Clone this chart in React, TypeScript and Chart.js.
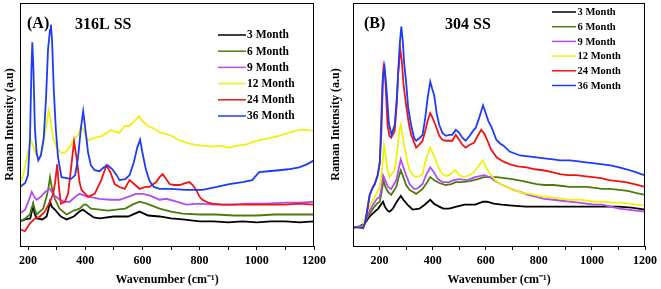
import React, { useEffect, useRef } from 'react';
import { Chart, registerables } from 'chart.js';

Chart.register(...registerables);

const FONT = "'Liberation Serif', 'Times New Roman', serif";

const SERIES_LABELS = ['3 Month', '6 Month', '9 Month', '12 Month', '24 Month', '36 Month'];
const SERIES_COLORS = ['#000000', '#4b7d0a', '#b34df2', '#eef20c', '#f01414', '#1f3cf5'];

const X_TICKS = [200, 300, 400, 500, 600, 700, 800, 900, 1000, 1100, 1200];
const X_TICK_LABELS = [200, 400, 600, 800, 1000, 1200];

const Y_TITLE = 'Raman Intensity (a.u)';
const X_TITLE = 'Wavenumber (cm\u207B\u00B9)';

// ---------- Panel A: 316L SS ----------
const A_3M = [[172,25],[190,27],[208,28],[214,36],[218,42],[223,33],[230,28],[250,27],[265,30],[272,38],[277,45],[283,40],[294,37],[315,30],[335,27],[360,30],[380,35],[392,37],[410,33],[430,29],[451,28],[500,30],[550,30],[590,35],[620,31],[660,30],[700,28],[741,27],[800,25],[850,25],[900,24],[950,25],[1000,24],[1050,25],[1100,25],[1150,24],[1200,25]];
const A_6M = [[172,25],[190,28],[207,32],[212,38],[218,43],[224,37],[230,32],[253,38],[265,50],[272,60],[277,70],[283,60],[294,48],[310,38],[335,32],[360,36],[381,38],[395,42],[404,42],[420,38],[451,37],[480,36],[509,37],[540,38],[565,42],[590,45],[615,43],[660,38],[700,35],[741,33],[800,32],[857,32],[920,31],[1000,31],[1060,32],[1130,32],[1200,32]];
const A_9M = [[172,33],[190,37],[205,48],[213,55],[222,50],[230,47],[245,50],[260,55],[270,57],[277,58],[290,52],[311,47],[330,45],[346,45],[365,50],[381,53],[400,51],[416,50],[450,48],[486,47],[520,47],[550,50],[578,53],[602,53],[630,51],[660,47],[683,48],[720,45],[753,42],[799,43],[850,42],[915,42],[970,43],[1031,43],[1100,44],[1150,44],[1200,45]];
const A_12M = [[172,62],[185,75],[200,95],[210,108],[220,100],[230,92],[240,90],[250,98],[260,115],[268,130],[272,138],[278,130],[288,110],[300,100],[315,95],[329,95],[345,100],[360,108],[375,113],[387,122],[398,115],[410,107],[430,110],[460,112],[490,118],[520,115],[538,122],[555,122],[575,128],[588,132],[600,127],[620,122],[636,120],[665,115],[695,113],[725,108],[753,105],[780,103],[810,102],[840,101],[869,102],[904,100],[930,102],[962,103],[990,106],[1019,108],[1050,110],[1078,112],[1110,115],[1148,118],[1175,118],[1200,117]];
const A_24M = [[172,17],[189,15],[207,23],[224,28],[242,30],[259,35],[277,45],[288,53],[295,65],[302,83],[308,60],[315,43],[329,45],[340,53],[347,70],[352,83],[361,106],[367,95],[373,83],[380,65],[387,57],[410,50],[433,53],[456,67],[474,82],[488,75],[503,63],[520,60],[538,58],[555,67],[575,62],[590,58],[610,60],[625,60],[648,65],[660,70],[671,73],[683,68],[695,63],[712,62],[730,62],[750,64],[764,65],[776,62],[788,57],[800,50],[810,47],[830,44],[845,43],[880,42],[927,42],[980,42],[1043,42],[1100,42],[1150,43],[1200,42]];
const A_36M = [[172,60],[190,64],[200,72],[207,110],[212,180],[215,207],[219,180],[224,120],[230,95],[236,87],[245,92],[255,110],[263,150],[270,200],[277,220],[280,225],[284,210],[290,160],[297,120],[305,90],[317,70],[335,69],[350,68],[365,72],[375,90],[385,120],[393,137],[400,120],[410,95],[420,82],[433,77],[450,76],[465,80],[479,82],[495,78],[510,72],[520,67],[540,68],[555,72],[570,85],[582,100],[592,108],[600,95],[612,78],[625,66],[640,60],[660,58],[700,58],[750,57],[810,57],[860,60],[904,63],[950,65],[984,67],[1008,75],[1040,76],[1078,77],[1110,78],[1148,80],[1175,83],[1200,87]];

// ---------- Panel B: 304 SS ----------
const B_3M = [[100,19],[125,20],[145,23],[157,28],[170,32],[182,35],[195,38],[205,42],[213,45],[220,40],[230,36],[238,35],[250,38],[265,45],[280,51],[290,47],[305,42],[325,37],[350,38],[370,42],[391,47],[405,43],[425,40],[440,38],[462,38],[490,40],[520,42],[560,42],[590,45],[605,45],[630,43],[660,42],[700,41],[750,40],[800,40],[850,40],[900,40],[950,40],[1000,40],[1050,40],[1100,40],[1150,39],[1200,37]];
const B_6M = [[100,19],[138,20],[145,24],[157,30],[175,38],[190,43],[201,45],[208,55],[215,67],[222,60],[232,55],[244,52],[263,60],[272,70],[280,77],[287,72],[300,62],[313,57],[338,53],[362,58],[380,65],[391,70],[405,67],[425,64],[450,62],[470,63],[487,65],[510,65],[540,66],[570,68],[593,70],[620,70],[642,70],[670,69],[700,68],[740,66],[791,63],[820,62],[854,62],[890,61],[916,60],[950,60],[980,60],[1010,59],[1040,58],[1070,58],[1103,57],[1135,56],[1165,54],[1200,52]];
const B_9M = [[100,19],[138,20],[145,25],[157,33],[175,42],[190,48],[201,50],[208,60],[213,72],[220,68],[232,60],[244,58],[263,67],[272,78],[280,88],[287,82],[300,72],[313,63],[330,58],[338,58],[350,60],[362,63],[375,72],[391,80],[405,75],[420,68],[437,65],[462,65],[480,67],[499,68],[531,67],[560,70],[593,72],[615,70],[630,67],[655,63],[680,60],[704,57],[729,55],[760,52],[791,50],[820,48],[854,47],[885,46],[916,45],[950,44],[978,43],[1010,42],[1040,42],[1070,40],[1103,38],[1135,37],[1165,36],[1200,35]];
const B_12M = [[100,19],[138,20],[145,28],[156,37],[170,44],[182,50],[201,60],[206,70],[211,83],[217,103],[222,95],[228,80],[238,70],[250,75],[257,77],[264,92],[269,103],[275,118],[280,123],[287,112],[294,100],[303,88],[313,77],[325,72],[338,70],[350,71],[362,73],[372,85],[381,93],[391,100],[400,95],[412,87],[425,78],[437,73],[450,71],[462,72],[475,75],[487,77],[500,72],[518,70],[540,72],[556,75],[575,82],[590,87],[600,80],[617,73],[636,67],[655,63],[680,60],[704,57],[735,54],[767,53],[800,51],[829,50],[860,49],[891,48],[920,47],[954,47],[985,46],[1016,45],[1050,45],[1078,44],[1110,44],[1140,43],[1170,42],[1200,41]];
const B_24M = [[100,19],[138,19],[145,23],[151,32],[157,42],[163,52],[172,58],[182,63],[193,72],[201,85],[207,133],[211,165],[215,182],[220,175],[223,163],[230,123],[237,112],[244,110],[257,117],[265,145],[270,175],[278,200],[284,188],[290,165],[300,143],[310,125],[319,113],[338,100],[350,103],[362,107],[372,117],[381,127],[391,135],[400,130],[412,122],[425,112],[437,108],[450,107],[462,107],[474,107],[487,113],[500,108],[512,103],[524,100],[540,103],[556,105],[570,112],[583,118],[595,114],[605,108],[620,98],[642,90],[665,86],[692,83],[720,81],[754,80],[785,78],[816,77],[850,75],[879,73],[910,72],[941,72],[970,71],[1003,70],[1035,69],[1065,67],[1095,66],[1127,65],[1160,63],[1200,60]];
const B_36M = [[100,19],[120,19],[138,18],[145,23],[151,32],[157,42],[163,52],[172,58],[182,63],[193,72],[201,85],[207,117],[213,173],[219,182],[223,170],[228,153],[235,125],[245,113],[257,123],[265,150],[270,175],[276,205],[282,223],[287,210],[293,185],[300,167],[308,140],[319,123],[330,110],[338,107],[352,110],[362,113],[372,130],[381,150],[391,167],[398,160],[406,153],[415,135],[425,123],[437,115],[450,112],[462,113],[474,113],[487,118],[500,115],[512,110],[524,107],[540,112],[552,117],[562,120],[575,130],[583,137],[590,143],[600,135],[610,127],[623,120],[640,108],[655,104],[667,102],[690,96],[729,92],[760,91],[791,90],[820,89],[854,88],[880,87],[916,87],[950,86],[978,85],[1010,84],[1040,83],[1070,82],[1103,80],[1130,78],[1165,75],[1185,73],[1200,72]];

const SERIES_A = [A_3M, A_6M, A_9M, A_12M, A_24M, A_36M];
const SERIES_B = [B_3M, B_6M, B_9M, B_12M, B_24M, B_36M];

type PanelCfg = {
  series: number[][][];
  xMin: number;
  xMax: number;
  width: number;
  padLeft: number;
  padRight: number;
  yTitleX: number;
  tag: string;
  tagX: number;
  tagY: number;
  name: string;
  nameX: number;
  nameY: number;
  legX1: number;
  legX2: number;
  legTx: number;
  legY0: number;
  legDy: number;
  legFont: number;
};

const PANEL_A: PanelCfg = {
  series: SERIES_A, xMin: 172, xMax: 1200, width: 330, padLeft: 20, padRight: 15, yTitleX: 12.5,
  tag: '(A)', tagX: 27, tagY: 24, name: '316L SS', nameX: 75, nameY: 25,
  legX1: 218, legX2: 246, legTx: 247, legY0: 35, legDy: 16.2, legFont: 11.5,
};
const PANEL_B: PanelCfg = {
  series: SERIES_B, xMin: 100, xMax: 1200, width: 331, padLeft: 23, padRight: 13, yTitleX: 9,
  tag: '(B)', tagX: 34, tagY: 24, name: '304 SS', nameX: 115, nameY: 25,
  legX1: 222, legX2: 246, legTx: 247.5, legY0: 12, legDy: 14.7, legFont: 10.5,
};

function Panel({ cfg, left }: { cfg: PanelCfg; left: number }) {
  const ref = useRef<HTMLCanvasElement | null>(null);
  useEffect(() => {
    if (!ref.current) return;
    const decor = {
      id: 'decor',
      afterDraw(chart: any) {
        const ctx = chart.ctx;
        const a = chart.chartArea;
        ctx.save();
        ctx.strokeStyle = '#000';
        ctx.lineWidth = 1;
        ctx.strokeRect(Math.round(a.left) + 0.5, Math.round(a.top) + 0.5, Math.round(a.right - a.left) - 1, Math.round(a.bottom - a.top));
        // y title
        ctx.fillStyle = '#000';
        ctx.font = `bold 12px ${FONT}`;
        ctx.save();
        ctx.translate(cfg.yTitleX, (a.top + a.bottom) / 2);
        ctx.rotate(-Math.PI / 2);
        ctx.textAlign = 'center';
        ctx.textBaseline = 'alphabetic';
        ctx.fillText(Y_TITLE, 0, 0);
        ctx.restore();
        // panel tag and name
        ctx.textAlign = 'left';
        ctx.textBaseline = 'middle';
        ctx.font = `bold 16px ${FONT}`;
        ctx.fillText(cfg.tag, cfg.tagX, cfg.tagY);
        ctx.fillText(cfg.name, cfg.nameX, cfg.nameY);
        // legend
        ctx.font = `bold ${cfg.legFont}px ${FONT}`;
        chart.data.datasets.forEach((ds: any, i: number) => {
          const y = cfg.legY0 + i * cfg.legDy;
          ctx.strokeStyle = ds.borderColor;
          ctx.lineWidth = 1.5;
          ctx.beginPath();
          ctx.moveTo(cfg.legX1, y);
          ctx.lineTo(cfg.legX2, y);
          ctx.stroke();
          ctx.fillStyle = '#000';
          ctx.fillText(ds.label, cfg.legTx, y + 0.5);
        });
        ctx.restore();
      },
    };
    const chart = new Chart(ref.current, {
      type: 'line',
      data: {
        datasets: cfg.series.map((pts, i) => ({
          label: SERIES_LABELS[i],
          data: pts.map(([x, y]) => ({ x, y })),
          borderColor: SERIES_COLORS[i],
          backgroundColor: SERIES_COLORS[i],
          borderWidth: 1.8,
          pointRadius: 0,
          tension: 0,
          fill: false,
          order: SERIES_LABELS.length - 1 - i,
        })),
      },
      options: {
        animation: false,
        responsive: false,
        maintainAspectRatio: false,
        devicePixelRatio: 1,
        layout: { padding: { left: cfg.padLeft, right: cfg.padRight, top: 3, bottom: 0 } },
        plugins: { legend: { display: false }, tooltip: { enabled: false }, title: { display: false } },
        scales: {
          x: {
            type: 'linear',
            min: cfg.xMin,
            max: cfg.xMax,
            afterBuildTicks: (scale: any) => {
              scale.ticks = X_TICKS.map((v) => ({ value: v }));
            },
            ticks: {
              autoSkip: false,
              maxRotation: 0,
              padding: 4,
              color: '#000',
              font: { family: FONT, size: 12, weight: 'bold' },
              callback: (v: any) => (X_TICK_LABELS.includes(Number(v)) ? String(v) : ''),
            },
            grid: { display: true, drawOnChartArea: false, drawTicks: true, tickLength: 4, color: '#000', lineWidth: 1 },
            border: { display: false },
            title: {
              display: true,
              text: X_TITLE,
              color: '#000',
              font: { family: FONT, size: 12, weight: 'bold' },
              padding: { top: 0.4, bottom: 1.8 },
            },
          },
          y: { display: false, min: 0, max: 247 },
        },
      },
      plugins: [decor],
    } as any);
    return () => chart.destroy();
  }, [cfg]);
  return (
    <canvas
      ref={ref}
      width={cfg.width}
      height={289}
      style={{ position: 'absolute', left, top: 0, width: cfg.width, height: 289 }}
    />
  );
}

export default function App() {
  return (
    <div style={{ position: 'fixed', left: 0, top: 0, width: 661, height: 289, background: '#fff', overflow: 'hidden' }}>
      <Panel cfg={PANEL_A} left={0} />
      <Panel cfg={PANEL_B} left={330} />
    </div>
  );
}
